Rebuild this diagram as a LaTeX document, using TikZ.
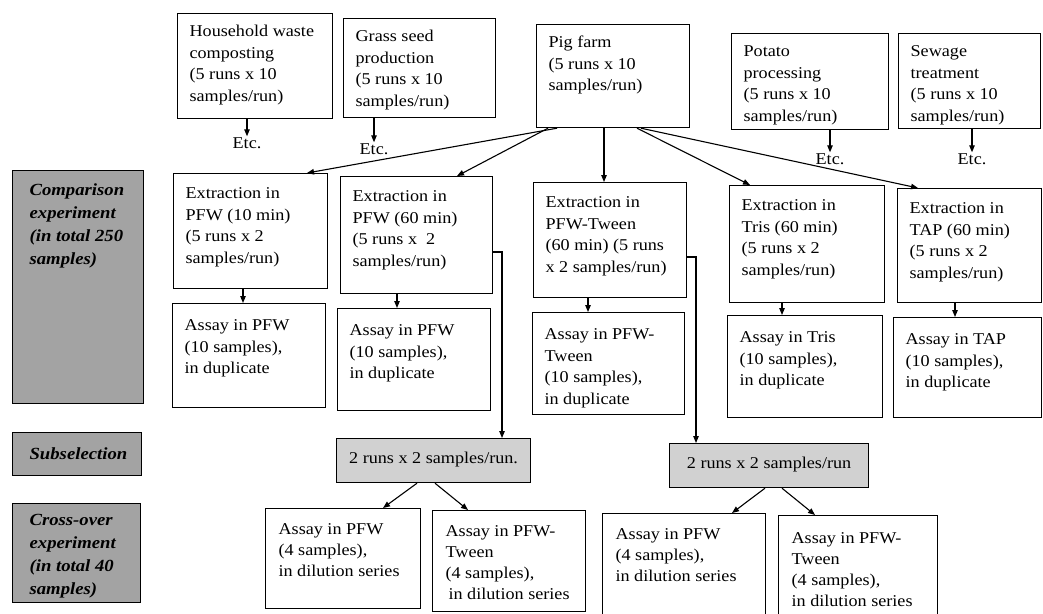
\documentclass[tikz,border=0pt]{standalone}
\usepackage{fontspec}
\setmainfont[FakeStretch=1.1]{Liberation Serif}
\usetikzlibrary{arrows.meta,calc}
\tikzset{
  box/.style={draw=black, line width=1.2pt, inner sep=0pt, anchor=north west, font=\fontsize{16.5}{21.5}\selectfont},
  sidebox/.style={box, fill=black!36, font=\fontsize{17}{23}\selectfont},
  subbox/.style={box, fill=black!18},
  crossbox/.style={box, font=\fontsize{16.5}{21}\selectfont},
  conn/.style={draw=black, line width=1.1pt, -{Triangle[length=7pt,width=5.5pt]}},
  etcl/.style={inner sep=1pt, font=\fontsize{16.5}{20}\selectfont},
}
% style, name, x1, y1, x2, y2, left pad, first baseline, text
\newcommand\bx[9]{%
  \pgfmathsetmacro\bw{#5-#3}\pgfmathsetmacro\bh{#6-#4}%
  \node[#1] (#2) at (#3,#4)
    {\parbox[t][\bh pt][t]{\bw pt}{\raggedright\leftskip=#7pt\rule{0pt}{#8pt}#9}};}
\begin{document}
\begin{tikzpicture}[x=1pt,y=-1pt]
\useasboundingbox (0,0) rectangle (1043,613);
% side labels
\bx{sidebox}{cmp}{12}{170}{143}{403}{17}{25}{\bfseries\itshape Comparison\\experiment\\(in total 250\\samples)}
\bx{sidebox}{subl}{12}{432}{141}{475}{17}{27}{\bfseries\itshape Subselection}
\bx{sidebox}{cro}{12}{503}{140}{602}{17}{22}{\bfseries\itshape Cross-over\\experiment\\(in total 40\\samples)}
% top row
\bx{box}{hh}{177}{13}{332}{118}{12}{23}{Household waste\\composting\\(5 runs x 10\\samples/run)}
\bx{box}{gs}{343}{18}{495}{117}{12}{23}{Grass seed\\production\\(5 runs x 10\\samples/run)}
\bx{box}{pig}{536}{24}{689}{127}{12}{23}{Pig farm\\(5 runs x 10\\samples/run)}
\bx{box}{pot}{731}{33}{888}{129}{12}{23}{Potato\\processing\\(5 runs x 10\\samples/run)}
\bx{box}{sew}{898}{33}{1040}{128}{12}{23}{Sewage\\treatment\\(5 runs x 10\\samples/run)}
% Etc.
\node[etcl] (etc1) at (247,143) {Etc.};
\node[etcl] (etc2) at (374,149) {Etc.};
\node[etcl] (etc3) at (830,159) {Etc.};
\node[etcl] (etc4) at (972,159) {Etc.};
\draw[conn] (etc1.north |- hh.south) -- (etc1.north);
\draw[conn] (etc2.north |- gs.south) -- (etc2.north);
\draw[conn] (etc3.north |- pot.south) -- (etc3.north);
\draw[conn] (etc4.north |- sew.south) -- (etc4.north);
% extraction row
\bx{box}{e1}{173}{173}{327}{288}{12}{25}{Extraction in\\PFW (10 min)\\(5 runs x 2\\samples/run)}
\bx{box}{e2}{340}{176}{492}{293}{12}{25}{Extraction in\\PFW (60 min)\\(5 runs x~ 2\\samples/run)}
\bx{box}{e3}{533}{182}{686}{297}{12}{25}{Extraction in\\PFW-Tween\\(60 min) (5 runs\\x 2 samples/run)}
\bx{box}{e4}{729}{185}{884}{302}{12}{25}{Extraction in\\Tris (60 min)\\(5 runs x 2\\samples/run)}
\bx{box}{e5}{897}{188}{1041}{302}{12}{25}{Extraction in\\TAP (60 min)\\(5 runs x 2\\samples/run)}
% assay row
\bx{box}{a1}{172}{303}{325}{407}{12}{27}{Assay in PFW\\(10 samples),\\in duplicate}
\bx{box}{a2}{337}{308}{490}{410}{12}{27}{Assay in PFW\\(10 samples),\\in duplicate}
\bx{box}{a3}{532}{312}{684}{414}{12}{27}{Assay in PFW-\\Tween\\(10 samples),\\in duplicate}
\bx{box}{a4}{727}{315}{882}{417}{12}{27}{Assay in Tris\\(10 samples),\\in duplicate}
\bx{box}{a5}{893}{317}{1041}{417}{12}{27}{Assay in TAP\\(10 samples),\\in duplicate}
% subselection
\bx{subbox}{s1}{336}{438}{530}{482}{0}{25}{\centering 2 runs x 2 samples/run.}
\bx{subbox}{s2}{669}{443}{868}{487}{0}{25}{\centering 2 runs x 2 samples/run}
% cross-over
\bx{crossbox}{c1}{265}{508}{420}{608}{13}{26}{Assay in PFW\\(4 samples),\\in dilution series}
\bx{crossbox}{c2}{432}{510}{585}{611}{13}{26}{Assay in PFW-\\Tween\\(4 samples),\\\hspace*{3pt}in dilution series}
\bx{crossbox}{c3}{602}{513}{765}{616}{13}{26}{Assay in PFW\\(4 samples),\\in dilution series}
\bx{crossbox}{c4}{778}{515}{937}{616}{13}{28}{Assay in PFW-\\Tween\\(4 samples),\\in dilution series}
% pig farm to extractions
\draw[conn] ($(pig.south west)+(21,0)$) -- ($(e1.north west)+(134,0)$);
\draw[conn] ($(pig.south west)+(12,0)$) -- ($(e2.north west)+(117,0)$);
\draw[conn] ($(pig.south west)+(68,0)$) -- ($(e3.north west)+(71,0)$);
\draw[conn] ($(pig.south west)+(101,0)$) -- ($(e4.north west)+(21,0)$);
\draw[conn] ($(pig.south west)+(105,0)$) -- ($(e5.north west)+(21,0)$);
% extraction to assay
\draw[conn] ($(e1.south west)+(70,0)$) coordinate (t1) -- (t1 |- a1.north);
\draw[conn] ($(e2.south west)+(57,0)$) coordinate (t2) -- (t2 |- a2.north);
\draw[conn] ($(e3.south west)+(55,0)$) coordinate (t3) -- (t3 |- a3.north);
\draw[conn] ($(e4.south west)+(53,0)$) coordinate (t4) -- (t4 |- a4.north);
\draw[conn] ($(e5.south west)+(58,0)$) coordinate (t5) -- (t5 |- a5.north);
% elbows to subselection
\draw[conn] ($(e2.north east)+(0,76)$) -| ($(s1.north west)+(166,0)$);
\draw[conn] ($(e3.north east)+(0,75)$) -| ($(s2.north west)+(27,0)$);
% subselection to cross-over
\draw[conn] ($(s1.south west)+(81,0)$) -- ($(c1.north west)+(118,0)$);
\draw[conn] ($(s1.south west)+(99,0)$) -- ($(c2.north west)+(36,0)$);
\draw[conn] ($(s2.south west)+(96,0)$) -- ($(c3.north west)+(130,0)$);
\draw[conn] ($(s2.south west)+(113,0)$) -- ($(c4.north west)+(37,0)$);
\end{tikzpicture}
\end{document}
